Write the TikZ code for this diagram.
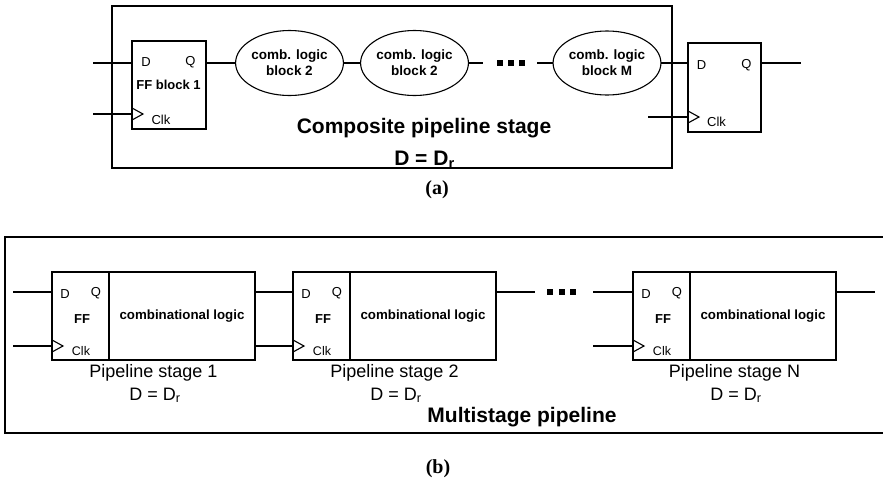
\documentclass[tikz,border=0pt]{standalone}
\usepackage{fontspec}
\setmainfont{Liberation Sans}
\newfontfamily\capfont{Liberation Serif}
\usetikzlibrary{
  calc,
  positioning,
  shapes.geometric
}
\tikzset{
  line cap=butt,
  line join=miter,
  every picture/.style={line width=1.1pt},
  ffbox/.style={draw, rectangle, inner sep=0pt, outer sep=0pt},
  combblob/.style={draw, ellipse, inner sep=0pt, outer sep=0pt, minimum width=87pt, minimum height=65pt,
    align=center, font=\fontsize{13.5}{16}\selectfont\bfseries},
  combtext/.style={font=\fontsize{13.3}{16}\selectfont\bfseries},
  pinlabel/.style={inner sep=0pt, font=\fontsize{13}{15}\selectfont},
  pinbold/.style={inner sep=0pt, font=\fontsize{13}{15}\selectfont\bfseries},
  framebox/.style={draw, line width=2pt},
  headtext/.style={anchor=base, inner sep=0pt, font=\fontsize{21}{24}\selectfont\bfseries},
  stagetext/.style={anchor=base, inner sep=0pt, font=\fontsize{18}{21}\selectfont},
  captext/.style={anchor=base, inner sep=0pt, font=\capfont\fontsize{20}{24}\selectfont\bfseries}
}

\begin{document}
\begin{tikzpicture}[x=1pt,y=-1pt]
  \useasboundingbox (0,0) rectangle (883,480);

  % composite stage
  \draw[framebox] (112,6) rectangle (672,168);

  \node[ffbox, minimum width=74pt, minimum height=88pt] (ffa) at (169,85) {};
  \node[pinlabel] at (146,62) {D};
  \node[pinlabel] at (190.5,62) {Q};
  \node[pinbold] at (168.5,84.5) {FF block 1};
  \node[pinlabel] at (161,119.5) {Clk};
  \draw (ffa.south west) ++(0,-21) -- ++(11,6) -- ++(-11,6);

  \node[combblob] (cla) at (289.5,63) {comb. logic\\block 2};
  \node[combblob] (clb) at (414.5,63) {comb. logic\\block 2};
  \node[combblob, minimum width=88pt, minimum height=64pt] (clm) at (607,63) {comb. logic\\block M};

  \node[ffbox, minimum width=73pt, minimum height=89pt] (ffb) at (724.5,87.5) {};
  \node[pinlabel] at (701.5,65) {D};
  \node[pinlabel] at (746.5,65) {Q};
  \node[pinlabel] at (716.5,122) {Clk};
  \draw (ffb.south west) ++(0,-21) -- ++(11,6) -- ++(-11,6);

  \coordinate (inD) at (93,63);
  \coordinate (inC) at (93,114);
  \draw (inD) -- (inD -| ffa.west);
  \draw (inC) -- (inC -| ffa.west);
  \draw (ffa.east |- cla.west) -- (cla.west);
  \draw (cla.east) -- (clb.west);
  \coordinate (dotL) at (483,63);
  \coordinate (dotR) at (537,63);
  \draw (clb.east) -- (dotL);
  \draw (dotR) -- (clm.west);
  \foreach \i in {0,1,2}
    \fill (497+11*\i,60) rectangle ++(6,6);
  \draw (clm.east) -- (clm.east -| ffb.west);
  \coordinate (outQ) at (801,63);
  \draw (ffb.east |- outQ) -- (outQ);
  \coordinate (inC2) at (648,117);
  \draw (inC2) -- (inC2 -| ffb.west);

  \node[headtext] at (424,133) {Composite pipeline stage};
  \node[headtext] at (424.5,165) {D = D\textsubscript{r}};
  \node[captext] at (437,194) {(a)};

  % multistage pipeline
  \draw[framebox] (883,237) -- (5,237) -- (5,433) -- (883,433);

  \foreach \n/\x/\s in {1/52/1, 2/293/2, 3/633/N} {
    \node[ffbox, minimum width=57pt, minimum height=88pt, anchor=north west] (ff\n) at (\x,272) {};
    \node[ffbox, combtext, minimum width=146pt, minimum height=88pt, anchor=north west] (cl\n) at (ff\n.north east) {combinational logic};
    \node[pinlabel] at ($(ff\n.north west)+(13,22)$) {D};
    \node[pinlabel] at ($(ff\n.north west)+(44,21)$) {Q};
    \node[pinbold] at ($(ff\n.north west)+(30,47)$) {FF};
    \node[pinlabel, font=\fontsize{12.5}{15}\selectfont] at ($(ff\n.south west)+(29,-9)$) {Clk};
    \draw (ff\n.south west) ++(0,-20) -- ++(11,6) -- ++(-11,6);
    \node[stagetext] at ($(ff\n.south west)!0.5!(cl\n.south east)+(0,17)$) {Pipeline stage \s};
    \node[stagetext] at ($(ff\n.south west)!0.5!(cl\n.south east)+(1.5,40)$) {D = D\textsubscript{r}};
  }

  \coordinate (in1D) at (13,292);
  \coordinate (in1C) at (13,346);
  \draw (in1D) -- (in1D -| ff1.west);
  \draw (in1C) -- (in1C -| ff1.west);
  \draw (cl1.east |- in1D) -- (ff2.west |- in1D);
  \draw (cl1.east |- in1C) -- (ff2.west |- in1C);
  \coordinate (gapL) at (535,292);
  \coordinate (gapR) at (593,292);
  \coordinate (gapC) at (593,346);
  \draw (cl2.east |- gapL) -- (gapL);
  \draw (gapR) -- (gapR -| ff3.west);
  \draw (gapC) -- (gapC -| ff3.west);
  \foreach \i in {0,1,2}
    \fill (547+11.5*\i,289) rectangle ++(6,6);
  \coordinate (outN) at (875,292);
  \draw (cl3.east |- outN) -- (outN);

  \node[headtext] at (522,422) {Multistage pipeline};
  \node[captext] at (438,473) {(b)};
\end{tikzpicture}
\end{document}
